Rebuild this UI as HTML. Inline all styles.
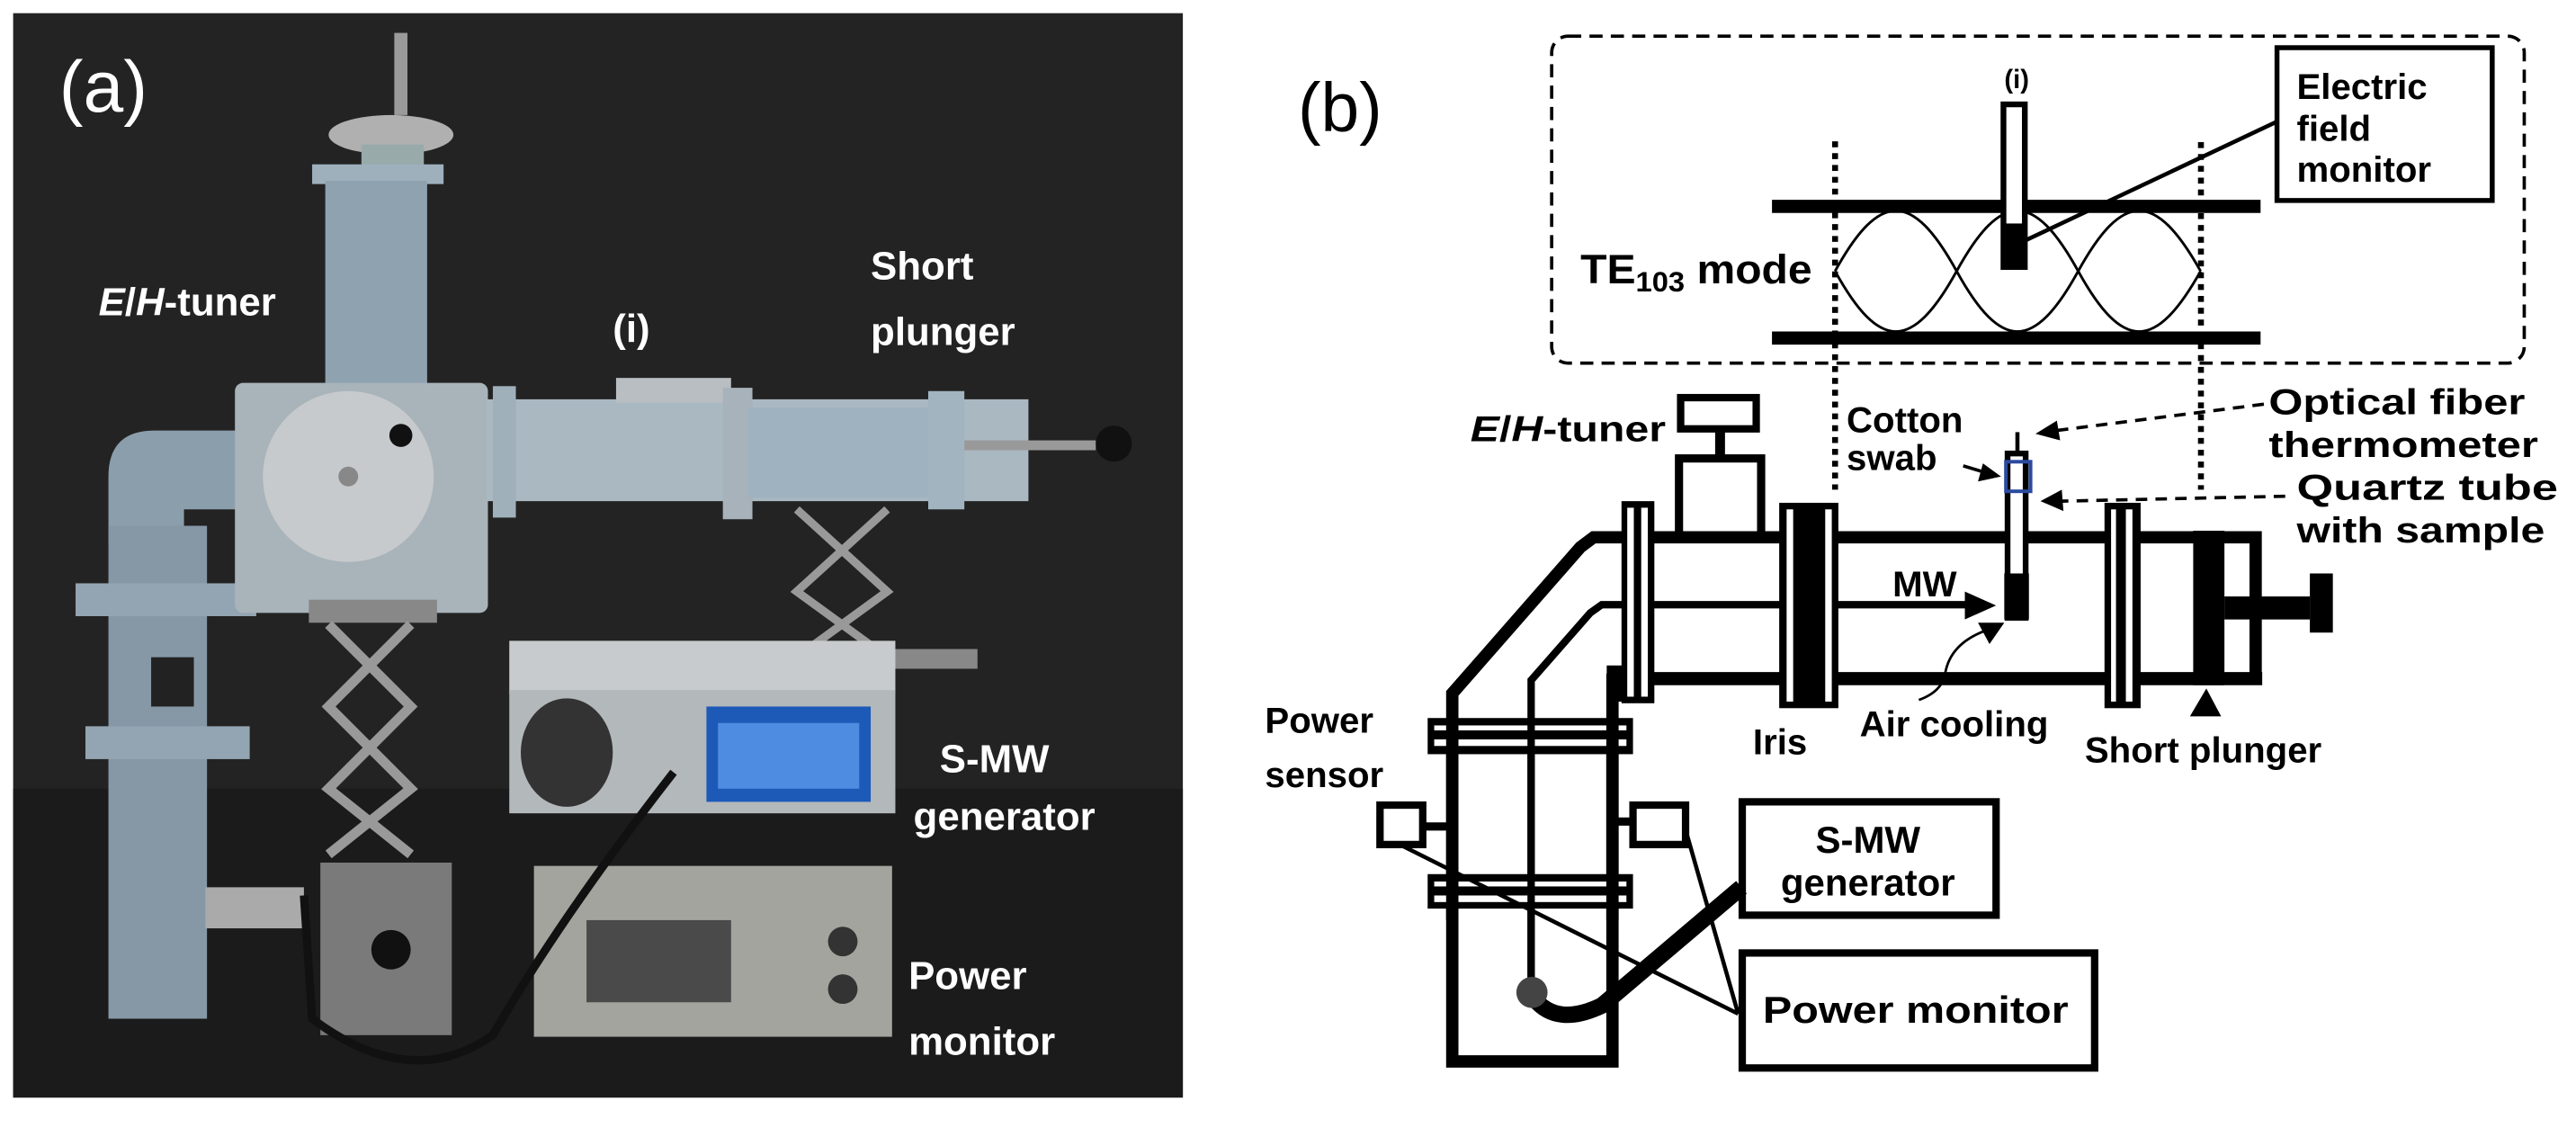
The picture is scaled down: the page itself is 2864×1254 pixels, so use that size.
<!DOCTYPE html>
<html><head><meta charset="utf-8"><style>
html,body{margin:0;padding:0;background:#fff;}
svg{display:block;}
text{font-family:"Liberation Sans",Arial,sans-serif;}
</style></head><body>
<svg width="2864" height="1254" viewBox="0 0 1568 686.5" xmlns="http://www.w3.org/2000/svg">
<rect width="1568" height="686.5" fill="#fff"/>
<!-- ===== Panel (a) photo approximation ===== -->
<rect x="8" y="8" width="712" height="660" fill="#232323"/>
<rect x="8" y="480" width="712" height="188" fill="#1b1b1b"/>
<rect x="240" y="20" width="8" height="50" fill="#9a9a9a"/>
<ellipse cx="238" cy="82" rx="38" ry="12" fill="#b0b0b0"/>
<rect x="220" y="88" width="38" height="15" fill="#9aa"/>
<rect x="190" y="100" width="80" height="12" fill="#9fb0bd"/>
<rect x="198" y="110" width="62" height="130" fill="#8fa2b0"/>
<path d="M66 330 L66 290 Q66 262 94 262 L145 262 L145 310 L112 310 L112 330 Z" fill="#8b9eac"/>
<rect x="66" y="320" width="60" height="300" fill="#8698a6"/>
<rect x="46" y="355" width="110" height="20" fill="#93a5b2"/>
<rect x="52" y="442" width="100" height="20" fill="#93a5b2"/>
<rect x="92" y="400" width="26" height="30" fill="#222"/>
<rect x="125" y="540" width="60" height="25" fill="#aaa"/>
<rect x="143" y="233" width="154" height="140" rx="5" fill="#a9b3ba"/>
<circle cx="212" cy="290" r="52" fill="#c6cacc"/>
<circle cx="212" cy="290" r="6" fill="#888"/>
<circle cx="244" cy="265" r="7" fill="#111"/>
<rect x="296" y="243" width="330" height="62" fill="#aab8c2"/>
<rect x="300" y="235" width="14" height="80" fill="#a0b0bb"/>
<rect x="375" y="230" width="70" height="15" fill="#b8bec2"/>
<rect x="440" y="236" width="18" height="80" fill="#a7b2ba"/>
<rect x="455" y="248" width="110" height="55" fill="#9fb2c0"/>
<rect x="565" y="238" width="22" height="72" fill="#a2b4c0"/>
<rect x="587" y="268" width="80" height="6" fill="#999"/>
<circle cx="678" cy="270" r="11" fill="#111"/>
<rect x="188" y="365" width="78" height="14" fill="#888"/>
<path d="M200 380 L250 430 L200 480 L250 520" stroke="#999" stroke-width="6" fill="none"/>
<path d="M250 380 L200 430 L250 480 L200 520" stroke="#999" stroke-width="6" fill="none"/>
<rect x="195" y="525" width="80" height="105" fill="#7a7a7a"/>
<circle cx="238" cy="578" r="12" fill="#111"/>
<path d="M485 310 L540 360 L485 400" stroke="#999" stroke-width="5" fill="none"/>
<path d="M540 310 L485 360 L540 400" stroke="#999" stroke-width="5" fill="none"/>
<rect x="480" y="395" width="115" height="12" fill="#888"/>
<rect x="310" y="390" width="235" height="32" fill="#c8cbcd"/>
<rect x="310" y="420" width="235" height="75" fill="#b3b8bb"/>
<ellipse cx="345" cy="458" rx="28" ry="33" fill="#333"/>
<rect x="430" y="430" width="100" height="58" fill="#1d5ab8"/>
<rect x="437" y="440" width="86" height="40" fill="#4d8ce0"/>
<rect x="325" y="527" width="218" height="104" fill="#a3a49d"/>
<rect x="357" y="560" width="88" height="50" fill="#4a4a4a"/>
<circle cx="513" cy="573" r="9" fill="#333"/>
<circle cx="513" cy="602" r="9" fill="#333"/>
<path d="M410 470 Q340 560 300 630 Q250 665 190 620 L185 545" stroke="#111" stroke-width="5" fill="none"/>
<g fill="#fff">
<text x="36" y="68" font-size="44">(a)</text>
<text x="60" y="192" font-size="24" font-weight="bold"><tspan font-style="italic">E</tspan>/<tspan font-style="italic">H</tspan>-tuner</text>
<text x="373" y="208" font-size="24" font-weight="bold">(i)</text>
<text x="530" y="170" font-size="24" font-weight="bold">Short</text>
<text x="530" y="210" font-size="24" font-weight="bold">plunger</text>
<text x="572" y="470" font-size="24" font-weight="bold">S-MW</text>
<text x="556" y="505" font-size="24" font-weight="bold">generator</text>
<text x="553" y="602" font-size="24" font-weight="bold">Power</text>
<text x="553" y="642" font-size="24" font-weight="bold">monitor</text>
</g>
<!-- ===== Panel (b) ===== -->
<text x="790" y="80" font-size="42">(b)</text>
<rect x="944.5" y="22" width="592" height="199" rx="10" fill="none" stroke="#000" stroke-width="2" stroke-dasharray="8,5"/>
<text x="1220" y="53.7" font-size="16" font-weight="bold">(i)</text>
<line x1="1078.6" y1="125.6" x2="1376" y2="125.6" stroke="#000" stroke-width="8"/>
<line x1="1078.6" y1="205.7" x2="1376" y2="205.7" stroke="#000" stroke-width="8"/>
<path d="M1117 165 C1144 116,1164 116,1191 165 S1238 214,1265 165 S1312 116,1339.5 165" fill="none" stroke="#000" stroke-width="1.6"/>
<path d="M1117 165 C1144 214,1164 214,1191 165 S1238 116,1265 165 S1312 214,1339.5 165" fill="none" stroke="#000" stroke-width="1.6"/>
<rect x="1219.5" y="63.5" width="13" height="99" fill="#fff" stroke="#000" stroke-width="3.5"/>
<rect x="1218" y="136" width="16" height="27" fill="#000"/>
<line x1="1117" y1="86" x2="1117" y2="298" stroke="#000" stroke-width="3.6" stroke-dasharray="3.6,3.6"/>
<line x1="1339.7" y1="86.5" x2="1339.7" y2="298" stroke="#000" stroke-width="3.6" stroke-dasharray="3.6,3.6"/>
<rect x="1386" y="29" width="131" height="93" fill="#fff" stroke="#000" stroke-width="3"/>
<text x="1398" y="60.2" font-size="22" font-weight="bold">Electric</text>
<text x="1398" y="85.8" font-size="22" font-weight="bold">field</text>
<text x="1398" y="110.6" font-size="22" font-weight="bold">monitor</text>
<line x1="1386" y1="74" x2="1233.5" y2="146" stroke="#000" stroke-width="2.5"/>
<text x="962" y="172.5" font-size="25" font-weight="bold" textLength="141" lengthAdjust="spacingAndGlyphs">TE<tspan font-size="17" dy="5">103</tspan><tspan dy="-5"> mode</tspan></text>
<!-- tuner -->
<text x="895" y="268.5" font-size="22" font-weight="bold" textLength="119" lengthAdjust="spacingAndGlyphs"><tspan font-style="italic">E</tspan>/<tspan font-style="italic">H</tspan>-tuner</text>
<rect x="1023" y="242" width="46" height="19" fill="#fff" stroke="#000" stroke-width="4.5"/>
<rect x="1044" y="261" width="6" height="16" fill="#000"/>
<rect x="1022" y="279" width="50" height="48" fill="#fff" stroke="#000" stroke-width="5"/>
<!-- main waveguide -->
<path d="M1373 413 L1373 327 L970 327 L962 333 L884 422 L884 646 L981.5 646 L981.5 410" fill="none" stroke="#000" stroke-width="7.5"/>
<line x1="981" y1="413" x2="1377" y2="413" stroke="#000" stroke-width="8"/>
<rect x="978" y="405" width="10" height="22" fill="#000"/>
<path d="M1198 368 L975 368 L968 373 L932 414 L932 604" fill="none" stroke="#000" stroke-width="4.5"/>
<path d="M1196 360 L1215 368.5 L1196 377 Z" fill="#000"/>
<text x="1152" y="363" font-size="22" font-weight="bold">MW</text>
<!-- left flange -->
<rect x="987" y="305" width="20" height="123" fill="#000"/>
<rect x="990.5" y="309" width="4" height="115" fill="#fff"/>
<rect x="999" y="309" width="4" height="115" fill="#fff"/>
<!-- iris -->
<rect x="1083" y="306" width="36" height="125" fill="#000"/>
<rect x="1087.5" y="310" width="4" height="117" fill="#fff"/>
<rect x="1111" y="310" width="4" height="117" fill="#fff"/>
<!-- right flange -->
<rect x="1281" y="306" width="22" height="125" fill="#000"/>
<rect x="1285" y="310" width="3" height="117" fill="#fff"/>
<rect x="1294" y="310" width="4" height="117" fill="#fff"/>
<!-- vertical flanges -->
<rect x="869" y="437" width="125" height="22" fill="#000"/>
<rect x="873" y="441.5" width="117" height="3" fill="#fff"/>
<rect x="873" y="450" width="117" height="4" fill="#fff"/>
<rect x="869" y="532" width="125" height="21" fill="#000"/>
<rect x="873" y="536.5" width="117" height="3" fill="#fff"/>
<rect x="873" y="545" width="117" height="4" fill="#fff"/>
<line x1="932" y1="440" x2="932" y2="604" stroke="#000" stroke-width="4.5"/>
<line x1="884" y1="440" x2="884" y2="560" stroke="#000" stroke-width="7.5"/>
<line x1="981.5" y1="440" x2="981.5" y2="560" stroke="#000" stroke-width="7.5"/>
<!-- short plunger -->
<rect x="1335" y="323" width="19" height="94" fill="#000"/>
<rect x="1354" y="363" width="52" height="14" fill="#000"/>
<rect x="1406" y="349" width="14" height="36" fill="#000"/>
<path d="M1333 436 L1343 419 L1352 436 Z" fill="#000"/>
<!-- probe in main -->
<line x1="1228" y1="263" x2="1228" y2="276" stroke="#000" stroke-width="2.5"/>
<rect x="1222" y="276" width="11" height="100" fill="#fff" stroke="#000" stroke-width="3.5"/>
<rect x="1220" y="349" width="15" height="28" fill="#000"/>
<rect x="1221" y="281" width="15" height="18" fill="none" stroke="#2b4aa0" stroke-width="2.2"/>
<text x="1124" y="263" font-size="22" font-weight="bold">Cotton</text>
<text x="1124" y="286" font-size="22" font-weight="bold">swab</text>
<path d="M1195 283.5 L1210 288" stroke="#000" stroke-width="2"/><path d="M1218 290 L1204 293 L1207 282 Z" fill="#000"/>
<text x="1381" y="252" font-size="22" font-weight="bold" textLength="156" lengthAdjust="spacingAndGlyphs">Optical fiber</text>
<text x="1381" y="278" font-size="22" font-weight="bold" textLength="164" lengthAdjust="spacingAndGlyphs">thermometer</text>
<line x1="1378" y1="246" x2="1252" y2="262" stroke="#000" stroke-width="2" stroke-dasharray="7,5"/>
<path d="M1239 264 L1252 256 L1254 268 Z" fill="#000"/>
<text x="1398" y="304" font-size="22" font-weight="bold" textLength="159" lengthAdjust="spacingAndGlyphs">Quartz  tube</text>
<text x="1398" y="330" font-size="22" font-weight="bold" textLength="151" lengthAdjust="spacingAndGlyphs">with sample</text>
<line x1="1391" y1="302" x2="1255" y2="305" stroke="#000" stroke-width="2" stroke-dasharray="7,5"/>
<path d="M1242 305 L1255 298 L1256 311 Z" fill="#000"/>
<path d="M1168 426 Q1182 421 1184 410 Q1187 392 1208 384" fill="none" stroke="#000" stroke-width="1.5"/>
<path d="M1220 379 L1204 379 L1211 392 Z" fill="#000"/>
<text x="1067" y="459" font-size="22" font-weight="bold">Iris</text>
<text x="1132" y="448" font-size="22" font-weight="bold">Air cooling</text>
<text x="1269" y="464" font-size="22" font-weight="bold">Short plunger</text>
<text x="770" y="446" font-size="22" font-weight="bold">Power</text>
<text x="770" y="479" font-size="22" font-weight="bold">sensor</text>
<!-- sensors -->
<rect x="840" y="490" width="26" height="24" fill="#fff" stroke="#000" stroke-width="4.5"/>
<line x1="866" y1="503" x2="884" y2="503" stroke="#000" stroke-width="5"/>
<rect x="994" y="490" width="32" height="24" fill="#fff" stroke="#000" stroke-width="4.5"/>
<line x1="981" y1="500" x2="994" y2="500" stroke="#000" stroke-width="5"/>
<rect x="1060.5" y="488" width="154.5" height="69" fill="#fff" stroke="#000" stroke-width="4.5"/>
<text x="1137" y="519" font-size="23" font-weight="bold" text-anchor="middle">S-MW</text>
<text x="1137" y="545" font-size="23" font-weight="bold" text-anchor="middle">generator</text>
<rect x="1060.5" y="580" width="214.5" height="70" fill="#fff" stroke="#000" stroke-width="4.5"/>
<text x="1073" y="622.5" font-size="23" font-weight="bold" textLength="186" lengthAdjust="spacingAndGlyphs">Power monitor</text>
<line x1="852" y1="514" x2="1058" y2="617" stroke="#000" stroke-width="2.5"/>
<line x1="1026" y1="505" x2="1058" y2="617" stroke="#000" stroke-width="2.5"/>
<path d="M934 608 Q948 625 975 612 L1060 540" fill="none" stroke="#000" stroke-width="10"/>
<circle cx="932.5" cy="604" r="9.5" fill="#444"/>
</svg>
</body></html>
